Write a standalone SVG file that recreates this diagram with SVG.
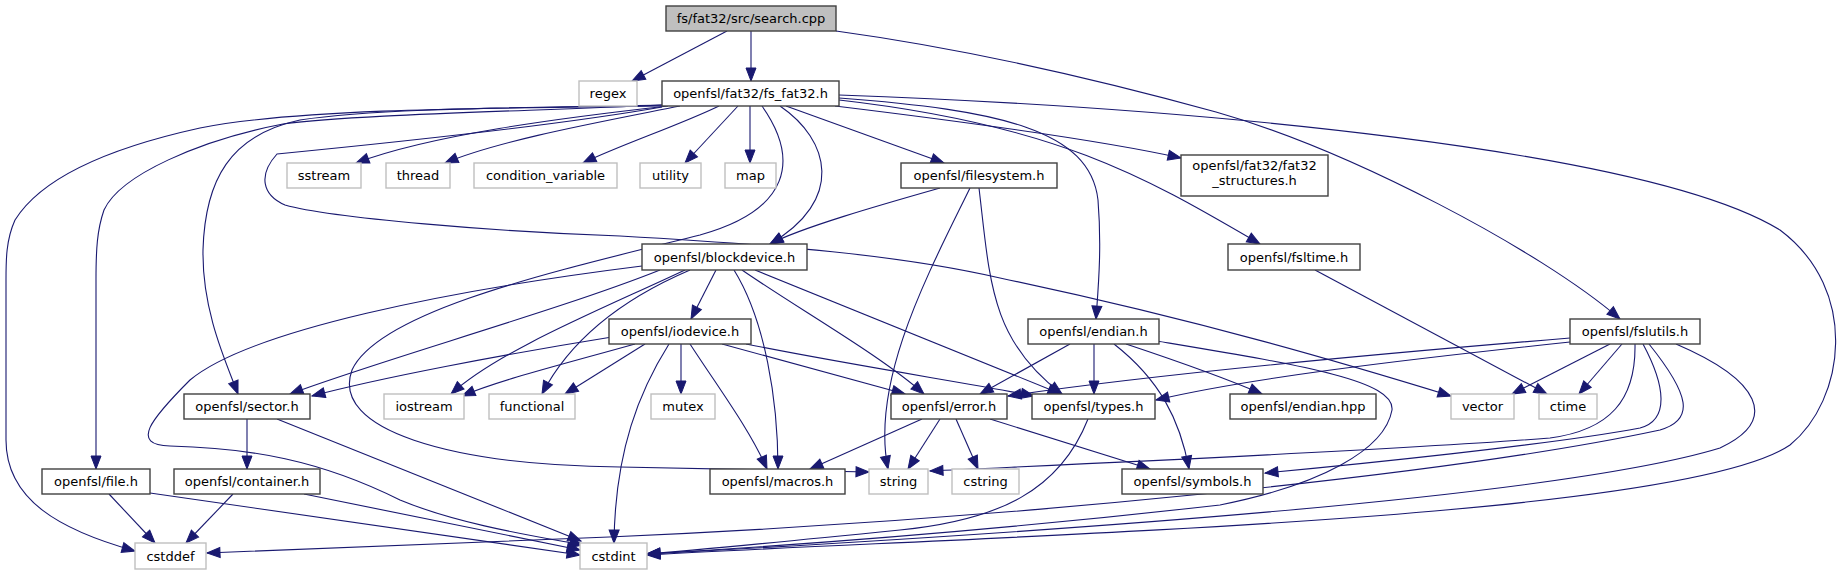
<svg xmlns="http://www.w3.org/2000/svg" width="1843" height="575" viewBox="0 0 1843 575">
<style>
.n rect{fill:#fff;stroke:#404040;stroke-width:1.4}
.x rect{fill:#fff;stroke:#bfbfbf;stroke-width:1.4}
.r rect{fill:#bfbfbf;stroke:#404040;stroke-width:1.4}
text{font-family:"DejaVu Sans","Liberation Sans",sans-serif;font-size:13px;fill:#000;text-anchor:middle}
#edges path{fill:none;stroke:#191970;stroke-width:1.1;marker-end:url(#a)}
</style>
<defs>
<marker id="a" markerUnits="userSpaceOnUse" markerWidth="14" markerHeight="10" refX="13" refY="5" orient="auto" overflow="visible"><path d="M0,0 L13,5 L0,10 z" fill="#191970" stroke="#191970" stroke-width="1"/></marker>
</defs>
<rect width="1843" height="575" fill="#fff"/>
<g id="edges">
<path d="M727,31 L632,81"/>
<path d="M751,31 L751,81"/>
<path d="M836,31 C960,48 1100,80 1216,112 C1350,150 1540,250 1620,319"/>
<path d="M668,106 C560,118 430,135 356,163"/>
<path d="M680,106 C600,122 500,140 445,163"/>
<path d="M719,106 C680,125 620,145 583,163"/>
<path d="M738,106 L685,163"/>
<path d="M750,106 L750,163"/>
<path d="M786,106 L944,163"/>
<path d="M835,106 C950,120 1100,140 1181,158"/>
<path d="M839,100 C1060,125 1150,180 1260,244"/>
<path d="M839,98 C1000,110 1090,130 1098,200 C1102,250 1098,290 1096,319"/>
<path d="M839,95 C1200,108 1650,150 1780,230 C1860,290 1845,400 1790,445 C1680,520 1000,535 647,555"/>
<path d="M780,106 C830,140 845,200 770,244"/>
<path d="M762,106 C800,160 790,210 700,235 C560,270 380,310 352,370 C330,430 450,465 620,467 L869,472"/>
<path d="M662,105 C520,108 380,108 300,120 C230,135 205,180 203,250 C202,310 225,360 238,394"/>
<path d="M662,105 C500,112 350,115 283,124 C200,140 120,175 104,210 C97,230 96,250 96,280 L96,469"/>
<path d="M662,106 C500,108 300,108 200,128 C100,150 40,180 15,220 C6,240 6,260 6,280 L6,440 C6,500 60,530 135,551"/>
<path d="M662,107 C560,125 420,140 277,154 C258,175 262,195 285,205 C330,218 500,232 620,236 C780,245 900,255 1000,278 C1200,320 1350,365 1451,396"/>
<path d="M716,270 L691,319"/>
<path d="M734,270 C765,320 778,400 778,469"/>
<path d="M742,270 C800,310 880,355 924,394"/>
<path d="M755,270 L1061,394"/>
<path d="M660,270 C560,310 380,360 290,394"/>
<path d="M685,270 C600,310 500,350 451,394"/>
<path d="M690,270 C620,300 570,340 542,394"/>
<path d="M642,266 C450,290 250,330 190,380 C150,420 130,445 170,446 C250,448 320,460 400,500 C460,525 540,537 583,545"/>
<path d="M612,337 C500,355 380,378 312,396"/>
<path d="M635,344 C560,365 500,380 462,396"/>
<path d="M645,344 L565,394"/>
<path d="M681,344 L681,394"/>
<path d="M690,344 C720,390 750,430 767,469"/>
<path d="M722,344 L905,394"/>
<path d="M746,344 C850,365 980,385 1034,396"/>
<path d="M669,344 C640,390 615,450 614,543"/>
<path d="M940,188 C880,205 800,228 770,244"/>
<path d="M970,188 C930,270 870,380 888,469"/>
<path d="M979,188 C990,280 990,340 1062,394"/>
<path d="M1070,344 L980,394"/>
<path d="M1094,344 L1094,394"/>
<path d="M1114,344 C1160,380 1180,420 1189,469"/>
<path d="M1126,344 C1180,362 1230,380 1262,394"/>
<path d="M1157,341 C1300,365 1395,380 1392,410 C1385,450 1320,485 1220,505 C1000,530 800,545 647,554"/>
<path d="M922,419 L810,469"/>
<path d="M940,419 L908,469"/>
<path d="M956,419 L978,469"/>
<path d="M990,419 L1150,469"/>
<path d="M1088,419 C1060,490 1000,520 900,530 C800,540 700,550 647,554"/>
<path d="M247,419 L247,469"/>
<path d="M277,419 L581,541"/>
<path d="M109,494 L155,543"/>
<path d="M150,493 L580,555"/>
<path d="M233,494 L186,543"/>
<path d="M304,494 L580,550"/>
<path d="M1315,270 L1547,394"/>
<path d="M1610,344 L1512,394"/>
<path d="M1622,344 L1579,394"/>
<path d="M1570,338 C1400,352 1150,375 1008,396"/>
<path d="M1570,342 C1400,360 1250,378 1156,400"/>
<path d="M1635,344 C1636,400 1610,430 1550,438 C1400,450 1100,463 930,471"/>
<path d="M1643,344 C1665,385 1670,420 1640,428 C1550,445 1350,465 1265,473"/>
<path d="M1649,344 C1690,395 1695,420 1660,430 C1450,475 1000,520 609,537 L207,553"/>
<path d="M1676,344 C1760,380 1780,420 1720,448 C1550,500 1000,535 647,554"/>
</g>
<g id="search_cpp" class="r"><rect x="666" y="6" width="170" height="25"/><text x="751" y="23">fs/fat32/src/search.cpp</text></g>
<g id="regex" class="x"><rect x="579" y="81" width="58" height="25"/><text x="608" y="98">regex</text></g>
<g id="fs_fat32_h" class="n"><rect x="662" y="81" width="177" height="25"/><text x="750.5" y="98">openfsl/fat32/fs_fat32.h</text></g>
<g id="sstream" class="x"><rect x="287" y="163" width="74" height="25"/><text x="324" y="180">sstream</text></g>
<g id="thread" class="x"><rect x="386" y="163" width="64" height="25"/><text x="418" y="180">thread</text></g>
<g id="condition_variable" class="x"><rect x="474" y="163" width="143" height="25"/><text x="545.5" y="180">condition_variable</text></g>
<g id="utility" class="x"><rect x="640" y="163" width="61" height="25"/><text x="670.5" y="180">utility</text></g>
<g id="map" class="x"><rect x="725" y="163" width="51" height="25"/><text x="750.5" y="180">map</text></g>
<g id="filesystem_h" class="n"><rect x="901" y="163" width="156" height="25"/><text x="979" y="180">openfsl/filesystem.h</text></g>
<g id="fat32_structures_h" class="n"><rect x="1181" y="155" width="147" height="41"/><text x="1254.5" y="170">openfsl/fat32/fat32</text><text x="1254.5" y="185">_structures.h</text></g>
<g id="blockdevice_h" class="n"><rect x="642" y="244" width="165" height="26"/><text x="724.5" y="261.5">openfsl/blockdevice.h</text></g>
<g id="fsltime_h" class="n"><rect x="1228" y="244" width="132" height="26"/><text x="1294" y="261.5">openfsl/fsltime.h</text></g>
<g id="iodevice_h" class="n"><rect x="609" y="319" width="142" height="25"/><text x="680" y="336">openfsl/iodevice.h</text></g>
<g id="endian_h" class="n"><rect x="1028" y="319" width="131" height="25"/><text x="1093.5" y="336">openfsl/endian.h</text></g>
<g id="fslutils_h" class="n"><rect x="1570" y="319" width="130" height="25"/><text x="1635" y="336">openfsl/fslutils.h</text></g>
<g id="sector_h" class="n"><rect x="184" y="394" width="126" height="25"/><text x="247" y="411">openfsl/sector.h</text></g>
<g id="iostream" class="x"><rect x="384" y="394" width="80" height="25"/><text x="424" y="411">iostream</text></g>
<g id="functional" class="x"><rect x="489" y="394" width="86" height="25"/><text x="532" y="411">functional</text></g>
<g id="mutex" class="x"><rect x="651" y="394" width="64" height="25"/><text x="683" y="411">mutex</text></g>
<g id="error_h" class="n"><rect x="891" y="394" width="116" height="25"/><text x="949" y="411">openfsl/error.h</text></g>
<g id="types_h" class="n"><rect x="1032" y="394" width="123" height="25"/><text x="1093.5" y="411">openfsl/types.h</text></g>
<g id="endian_hpp" class="n"><rect x="1230" y="394" width="146" height="25"/><text x="1303" y="411">openfsl/endian.hpp</text></g>
<g id="vector" class="x"><rect x="1451" y="394" width="63" height="25"/><text x="1482.5" y="411">vector</text></g>
<g id="ctime" class="x"><rect x="1539" y="394" width="58" height="25"/><text x="1568" y="411">ctime</text></g>
<g id="file_h" class="n"><rect x="42" y="469" width="108" height="25"/><text x="96" y="486">openfsl/file.h</text></g>
<g id="container_h" class="n"><rect x="174" y="469" width="146" height="25"/><text x="247" y="486">openfsl/container.h</text></g>
<g id="macros_h" class="n"><rect x="710" y="469" width="135" height="25"/><text x="777.5" y="486">openfsl/macros.h</text></g>
<g id="string" class="x"><rect x="869" y="469" width="59" height="25"/><text x="898.5" y="486">string</text></g>
<g id="cstring" class="x"><rect x="952" y="469" width="67" height="25"/><text x="985.5" y="486">cstring</text></g>
<g id="symbols_h" class="n"><rect x="1122" y="469" width="141" height="25"/><text x="1192.5" y="486">openfsl/symbols.h</text></g>
<g id="cstddef" class="x"><rect x="135" y="543" width="71" height="26"/><text x="170.5" y="560.5">cstddef</text></g>
<g id="cstdint" class="x"><rect x="580" y="543" width="67" height="26"/><text x="613.5" y="560.5">cstdint</text></g>
</svg>
